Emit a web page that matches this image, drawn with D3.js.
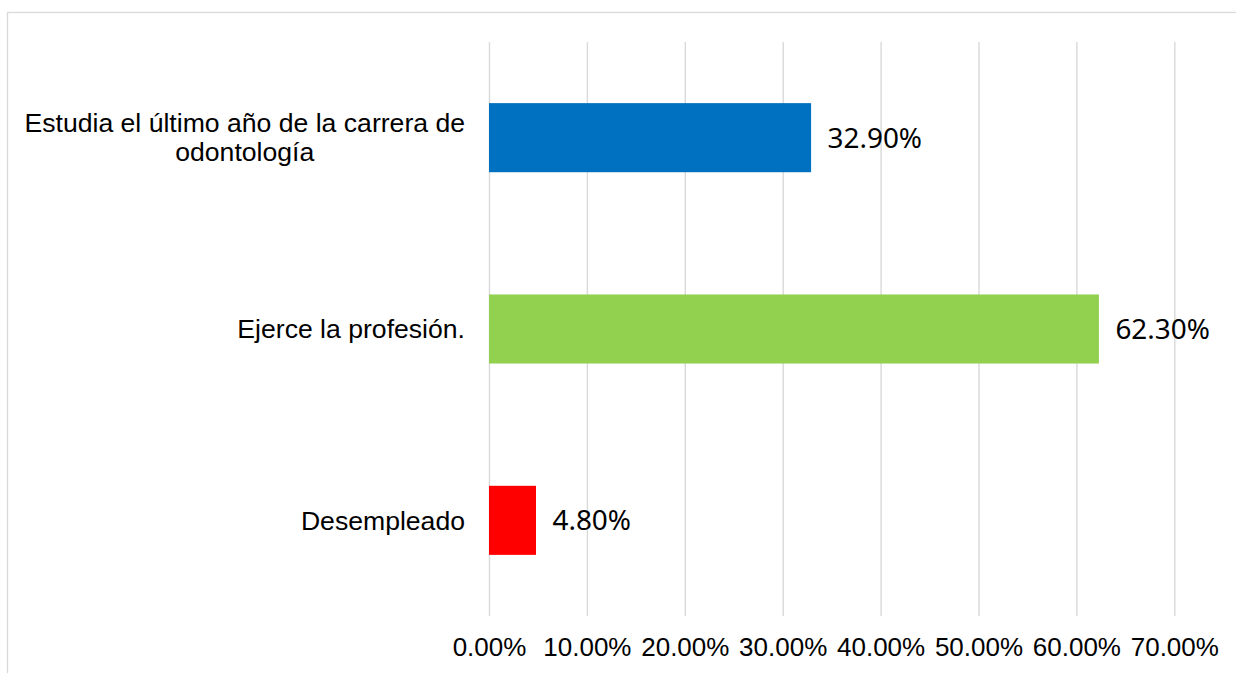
<!DOCTYPE html>
<html>
<head>
<meta charset="utf-8">
<script src="https://cdn.jsdelivr.net/npm/d3@7"></script>
<style>
  html, body { margin: 0; padding: 0; background: #fff; }
  svg { display: block; }
</style>
</head>
<body>
<svg id="chart" width="1236" height="673"></svg>
<script>
const categories = [
  "Estudia el último año de la carrera de odontología",
  "Ejerce la profesión.",
  "Desempleado"
];
const values = [0.329, 0.623, 0.048];
const valueLabels = ["32.90%", "62.30%", "4.80%"];
const barColors = ["#0070C0", "#92D050", "#FF0000"];
const tickValues = [0, 0.1, 0.2, 0.3, 0.4, 0.5, 0.6, 0.7];

const svg = d3.select("#chart");

// chart border
svg.append("rect")
  .attr("x", 7.5).attr("y", 12.5)
  .attr("width", 1240).attr("height", 700)
  .attr("fill", "none").attr("stroke", "#D9D9D9").attr("stroke-width", 1.3);

const plotTop = 42, plotBottom = 616, x0 = 489, x1 = 1174.3;

const x = d3.scaleLinear().domain([0, 0.7]).range([x0, x1]);
const y = d3.scaleBand().domain(categories).range([plotTop, plotBottom])
  .paddingInner(0.639).paddingOuter(0.3195);

// gridlines + tick labels
const axis = d3.axisBottom(x)
  .tickValues(tickValues)
  .tickFormat(d3.format(".2%"))
  .tickSizeInner(-(plotBottom - plotTop))
  .tickSizeOuter(0)
  .tickPadding(21.5);

const gx = svg.append("g")
  .attr("transform", `translate(0,${plotBottom})`)
  .call(axis);
gx.select(".domain").remove();
gx.selectAll(".tick line").attr("stroke", "#D9D9D9").attr("stroke-width", 1.4);
gx.selectAll(".tick text")
  .attr("fill", "#000")
  .style("font-family", "'Liberation Sans', Arial, sans-serif")
  .style("font-size", "26px");

// bars
svg.append("g").selectAll("rect")
  .data(categories)
  .join("rect")
  .attr("x", x(0))
  .attr("y", d => y(d))
  .attr("width", (d, i) => x(values[i]) - x(0))
  .attr("height", y.bandwidth())
  .attr("fill", (d, i) => barColors[i]);

// value labels
svg.append("g").selectAll("text")
  .data(categories)
  .join("text")
  .attr("x", (d, i) => x(values[i]) + 16.5)
  .attr("y", d => y(d) + y.bandwidth() / 2)
  .attr("dy", "0.36em")
  .style("font-family", "'Noto Sans', 'Open Sans', sans-serif")
  .style("font-size", "27.9px")
  .attr("fill", "#000")
  .text((d, i) => valueLabels[i]);

// category labels (wrapped, Excel-like centering within right-aligned block)
const labelRight = 465, maxWidth = 460, lineH = 29, catFont = 26.6;
const lg = svg.append("g");
categories.forEach(cat => {
  const t = lg.append("text")
    .style("font-family", "'Liberation Sans', Arial, sans-serif")
    .style("font-size", catFont + "px")
    .attr("fill", "#000");
  const words = cat.split(" ");
  const lines = [];
  let cur = [];
  const probe = t.append("tspan");
  words.forEach(w => {
    const test = cur.concat([w]).join(" ");
    probe.text(test);
    if (probe.node().getComputedTextLength() > maxWidth && cur.length) {
      lines.push(cur.join(" "));
      cur = [w];
    } else {
      cur.push(w);
    }
  });
  if (cur.length) lines.push(cur.join(" "));
  let widest = 0;
  lines.forEach(l => { probe.text(l); widest = Math.max(widest, probe.node().getComputedTextLength()); });
  probe.remove();
  const cx = labelRight - widest / 2;
  const cy = y(cat) + y.bandwidth() / 2;
  const firstBase = cy - (lines.length - 1) * lineH / 2 + catFont * 0.35;
  lines.forEach((l, i) => {
    t.append("tspan")
      .attr("x", cx)
      .attr("y", firstBase + i * lineH)
      .attr("text-anchor", "middle")
      .text(l);
  });
});
</script>
</body>
</html>
